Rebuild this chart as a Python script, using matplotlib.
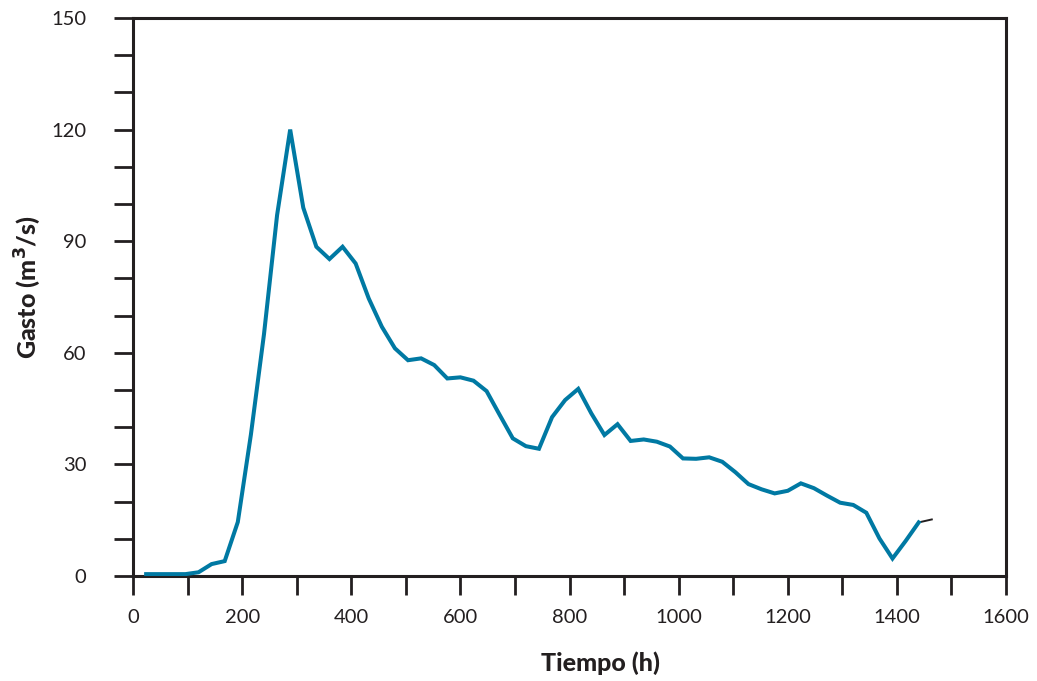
import matplotlib
matplotlib.use("Agg")
import matplotlib.pyplot as plt
import numpy as np

# Hydrograph: discharge every 24 h
tiempo_h = [24, 48, 72, 96, 120, 144, 168, 192, 216, 240,
            264, 288, 312, 336, 360, 384, 408, 432, 456, 480,
            504, 528, 552, 576, 600, 624, 648, 672, 696, 720,
            744, 768, 792, 816, 840, 864, 888, 912, 936, 960,
            984, 1008, 1032, 1056, 1080, 1104, 1128, 1152, 1176, 1200,
            1224, 1248, 1272, 1296, 1320, 1344, 1368, 1392, 1416, 1440,
            1464]
gasto = [0.5, 0.5, 0.5, 0.5, 1.0, 3.2, 4.0, 14.5, 38.0, 65.0,
         97.0, 120.0, 99.0, 88.5, 85.2, 88.5, 84.0, 74.6, 67.0, 61.2,
         58.0, 58.5, 56.7, 53.1, 53.4, 52.5, 49.7, 43.3, 37.0, 34.9,
         34.2, 42.7, 47.3, 50.3, 43.7, 37.9, 40.8, 36.3, 36.7, 36.1,
         34.8, 31.6, 31.5, 31.9, 30.7, 27.9, 24.7, 23.3, 22.2, 22.9,
         24.9, 23.6, 21.6, 19.7, 19.1, 17.0, 10.1, 4.7, 9.4, 14.4,
         15.2]

x_major = [0, 200, 400, 600, 800, 1000, 1200, 1400, 1600]
y_major = [0, 30, 60, 90, 120, 150]

ink = "#231f20"
blue = "#0079a3"

plt.rcParams["font.family"] = ["Lato", "DejaVu Sans"]

fig = plt.figure(figsize=(10.37, 6.81), dpi=100)
ax = fig.add_axes([0.1283, 0.1542, 0.8418, 0.8194])

ax.plot(tiempo_h[:-1], gasto[:-1], color=blue, lw=2.9, solid_joinstyle="miter", zorder=3)
ax.plot(tiempo_h[-2:], gasto[-2:], color=ink, lw=1.4, zorder=2)

ax.set_xlim(0, 1600)
ax.set_ylim(0, 150)

ax.set_xticks(x_major)
ax.set_xticks(np.arange(0, 1601, 100), minor=True)
ax.set_yticks(y_major)
ax.set_yticks(np.arange(0, 151, 10), minor=True)

for s in ax.spines.values():
    s.set_linewidth(2.2)
    s.set_color(ink)

ax.tick_params(which="both", direction="out", length=13.5, width=2.0, color=ink)
ax.tick_params(axis="x", which="both", pad=10)
ax.tick_params(axis="y", which="both", pad=20)
ax.tick_params(labelsize=14.5, labelcolor=ink)

ax.set_xlabel("Tiempo (h)", fontsize=18, fontweight="black", color=ink, va="center")
ax.set_ylabel("Gasto (m$^{\\mathbf{3}}$/s)", fontsize=18, fontweight="black", color=ink,
              va="center")
ax.xaxis.set_label_coords(0.536, -0.156)
ax.yaxis.set_label_coords(-0.120, 0.518)

fig.savefig("out.png", dpi=100)
